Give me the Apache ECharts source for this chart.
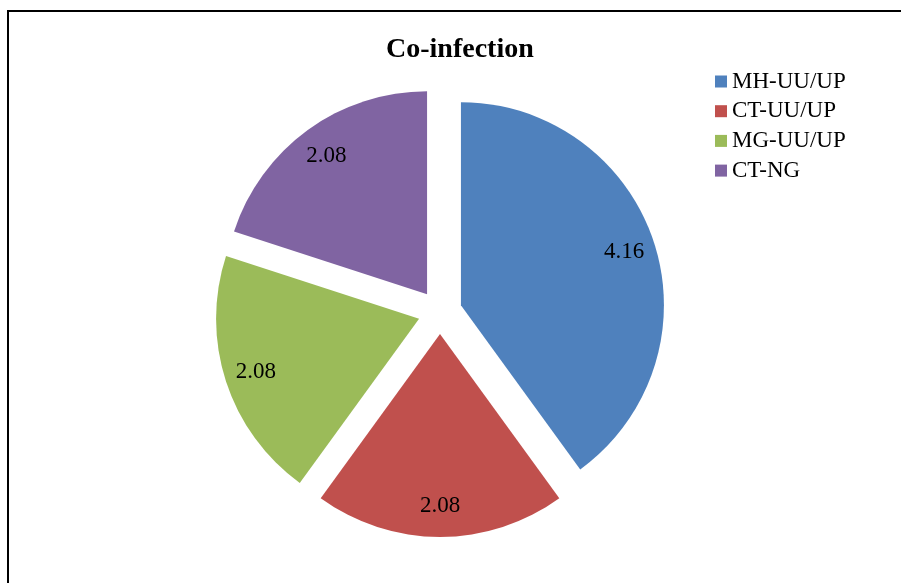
<!DOCTYPE html>
<html>
<head>
<meta charset="utf-8">
<script src="https://cdn.jsdelivr.net/npm/echarts@6/dist/echarts.min.js"></script>
<style>html,body{margin:0;padding:0;background:#fff}#c{width:901px;height:583px}</style>
</head>
<body>
<div id="c"></div>
<script>
var categories = ['MH-UU/UP', 'CT-UU/UP', 'MG-UU/UP', 'CT-NG'];
var values = [4.16, 2.08, 2.08, 2.08];
var colors = ['#4F81BD', '#C0504D', '#9BBB59', '#8064A2'];

var chart = echarts.init(document.getElementById('c'), null, {renderer: 'canvas'});
var font = 'Liberation Serif, Times New Roman, serif';
var R = 203, CX = 440, CY = 312, OFF = 22;

function makeData(transparent) {
  return categories.map(function (n, i) {
    return {
      name: n, value: values[i], selected: true,
      itemStyle: {color: transparent ? 'rgba(0,0,0,0)' : colors[i]}
    };
  });
}

chart.setOption({
  animation: false,
  color: colors,
  title: {
    text: 'Co-infection', left: 386, top: 36, padding: 0,
    textStyle: {fontFamily: font, fontWeight: 'bold', fontSize: 28, color: '#000', lineHeight: 28}
  },
  legend: {
    orient: 'vertical', left: 715, top: 70, padding: 0,
    itemWidth: 12, itemHeight: 12, itemGap: 6.7,
    icon: 'rect', data: categories,
    textStyle: {fontFamily: font, fontSize: 23, color: '#000'},
    selectedMode: false
  },
  graphic: [{
    type: 'rect', shape: {x: 8, y: 11, width: 1200, height: 1200},
    style: {fill: 'none', stroke: '#000', lineWidth: 2}, silent: true, z: 100
  }],
  series: [{
    type: 'pie', center: [CX, CY], radius: [0, R], startAngle: 90, clockwise: true,
    selectedMode: 'multiple', selectedOffset: OFF,
    label: {show: false}, labelLine: {show: false},
    emphasis: {disabled: true}, select: {itemStyle: {}},
    data: makeData(false)
  }, {
    type: 'pie', center: [CX, CY], radius: [R * 0.66, R], startAngle: 90, clockwise: true,
    selectedMode: 'multiple', selectedOffset: OFF, silent: true,
    label: {show: true, position: 'inside', formatter: function (p) { return p.value.toFixed(2); },
      fontFamily: font, fontSize: 23, color: '#000', textBorderWidth: 0},
    labelLine: {show: false},
    emphasis: {disabled: true}, select: {itemStyle: {}},
    data: makeData(true)
  }]
});
</script>
</body>
</html>
